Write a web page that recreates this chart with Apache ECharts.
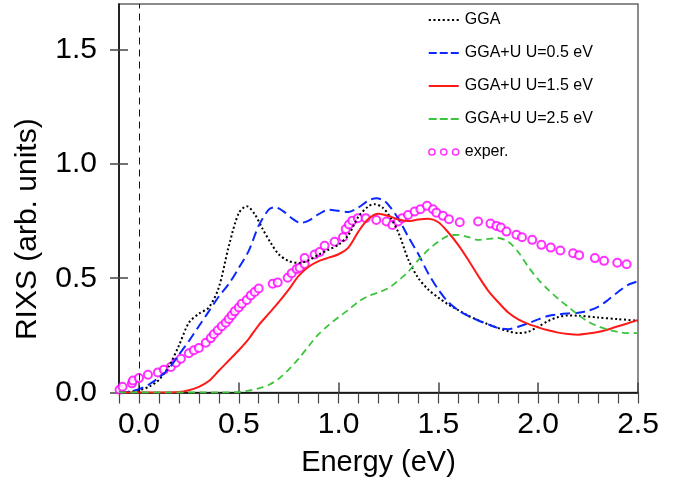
<!DOCTYPE html>
<html><head><meta charset="utf-8">
<script src="https://cdn.jsdelivr.net/npm/echarts@6/dist/echarts.min.js"></script>
<style>html,body{margin:0;padding:0;background:#fff}#c{width:688px;height:487px}</style>
</head><body><div id="c"></div>
<script>
const seriesNames = ['GGA', 'GGA+U U=0.5 eV', 'GGA+U U=1.5 eV', 'GGA+U U=2.5 eV', 'exper.'];
const xTitle = 'Energy (eV)';
const yTitle = 'RIXS (arb. units)';
const xMajorTicks = [0, 0.5, 1.0, 1.5, 2.0, 2.5];
const xMinorTicks = [-0.1, 0, 0.1, 0.2, 0.3, 0.4, 0.5, 0.6, 0.7, 0.8, 0.9, 1.0, 1.1, 1.2, 1.3, 1.4, 1.5, 1.6, 1.7, 1.8, 1.9, 2.0, 2.1, 2.2, 2.3, 2.4, 2.5];
const yMajorTicks = [0, 0.5, 1.0, 1.5];
const fermiLine = 0;

const ggaData = [[-0.1,0],[-0.05,0.003],[0,0.01],[0.05,0.025],[0.1,0.055],[0.15,0.115],[0.2,0.205],[0.25,0.305],[0.3,0.345],[0.35,0.372],[0.4,0.46],[0.45,0.64],[0.5,0.785],[0.54,0.815],[0.58,0.78],[0.62,0.715],[0.66,0.655],[0.7,0.605],[0.75,0.575],[0.8,0.567],[0.85,0.578],[0.9,0.603],[0.95,0.625],[1.0,0.647],[1.05,0.69],[1.1,0.77],[1.15,0.815],[1.18,0.824],[1.22,0.81],[1.26,0.765],[1.3,0.7],[1.35,0.58],[1.4,0.5],[1.45,0.45],[1.5,0.415],[1.55,0.385],[1.6,0.36],[1.65,0.336],[1.7,0.316],[1.75,0.298],[1.8,0.282],[1.85,0.268],[1.9,0.26],[1.95,0.266],[2.0,0.288],[2.05,0.313],[2.1,0.33],[2.15,0.337],[2.2,0.336],[2.3,0.328],[2.4,0.321],[2.5,0.314]];

const u05Data = [[-0.1,0],[-0.05,0.003],[0,0.015],[0.05,0.035],[0.1,0.065],[0.15,0.105],[0.2,0.165],[0.25,0.225],[0.3,0.29],[0.35,0.355],[0.4,0.42],[0.45,0.475],[0.5,0.545],[0.55,0.62],[0.6,0.73],[0.65,0.8],[0.68,0.811],[0.72,0.795],[0.77,0.76],[0.81,0.742],[0.85,0.752],[0.9,0.78],[0.95,0.8],[1.0,0.795],[1.05,0.79],[1.1,0.81],[1.15,0.84],[1.19,0.85],[1.23,0.838],[1.26,0.81],[1.3,0.76],[1.35,0.68],[1.4,0.605],[1.45,0.52],[1.5,0.45],[1.55,0.395],[1.6,0.36],[1.65,0.335],[1.7,0.315],[1.75,0.298],[1.8,0.282],[1.85,0.277],[1.9,0.288],[1.95,0.303],[2.0,0.32],[2.05,0.335],[2.1,0.342],[2.15,0.346],[2.2,0.349],[2.25,0.358],[2.3,0.375],[2.35,0.405],[2.4,0.44],[2.45,0.471],[2.5,0.487]];

const u15Data = [[-0.1,0],[0.1,0],[0.2,0.002],[0.25,0.01],[0.3,0.025],[0.35,0.05],[0.4,0.095],[0.45,0.14],[0.5,0.185],[0.55,0.235],[0.6,0.295],[0.65,0.345],[0.7,0.395],[0.75,0.45],[0.8,0.51],[0.85,0.55],[0.9,0.575],[0.95,0.59],[1.0,0.605],[1.05,0.635],[1.1,0.705],[1.15,0.76],[1.2,0.782],[1.25,0.772],[1.3,0.757],[1.35,0.75],[1.4,0.757],[1.45,0.76],[1.5,0.745],[1.55,0.7],[1.6,0.645],[1.65,0.58],[1.7,0.51],[1.75,0.445],[1.8,0.395],[1.85,0.35],[1.9,0.32],[1.95,0.3],[2.0,0.285],[2.05,0.272],[2.1,0.262],[2.15,0.256],[2.2,0.253],[2.25,0.258],[2.3,0.265],[2.35,0.276],[2.4,0.29],[2.45,0.303],[2.5,0.318]];

const u25Data = [[-0.1,0],[0.4,0],[0.5,0.002],[0.55,0.008],[0.6,0.018],[0.65,0.033],[0.7,0.06],[0.75,0.1],[0.8,0.148],[0.85,0.203],[0.9,0.255],[0.95,0.295],[1.0,0.33],[1.05,0.362],[1.1,0.398],[1.15,0.422],[1.2,0.438],[1.25,0.457],[1.3,0.49],[1.35,0.53],[1.4,0.58],[1.45,0.625],[1.5,0.66],[1.55,0.686],[1.6,0.69],[1.65,0.68],[1.7,0.668],[1.75,0.672],[1.8,0.676],[1.85,0.66],[1.9,0.615],[1.95,0.55],[2.0,0.495],[2.05,0.45],[2.1,0.41],[2.15,0.375],[2.2,0.34],[2.25,0.31],[2.3,0.29],[2.35,0.275],[2.4,0.265],[2.45,0.26],[2.5,0.26]];

const experData = [[-0.097,0.012],[-0.082,0.025],[-0.035,0.04],[-0.03,0.052],[0.0,0.063],[0.045,0.078],[0.095,0.088],[0.125,0.1],[0.16,0.112],[0.185,0.13],[0.21,0.148],[0.25,0.172],[0.275,0.185],[0.3,0.195],[0.335,0.218],[0.36,0.238],[0.375,0.255],[0.395,0.272],[0.415,0.29],[0.435,0.305],[0.45,0.322],[0.465,0.338],[0.48,0.355],[0.5,0.372],[0.515,0.388],[0.54,0.405],[0.56,0.425],[0.58,0.44],[0.6,0.455],[0.67,0.476],[0.695,0.481],[0.745,0.502],[0.765,0.522],[0.79,0.54],[0.805,0.546],[0.83,0.562],[0.83,0.588],[0.88,0.604],[0.905,0.615],[0.93,0.642],[0.98,0.66],[1.022,0.679],[1.036,0.715],[1.052,0.735],[1.069,0.752],[1.097,0.763],[1.136,0.763],[1.189,0.755],[1.24,0.748],[1.27,0.733],[1.298,0.748],[1.319,0.763],[1.348,0.777],[1.381,0.792],[1.41,0.802],[1.443,0.817],[1.473,0.802],[1.49,0.787],[1.523,0.773],[1.553,0.758],[1.607,0.745],[1.699,0.748],[1.761,0.739],[1.791,0.729],[1.813,0.722],[1.841,0.704],[1.891,0.69],[1.919,0.679],[1.97,0.668],[2.016,0.646],[2.063,0.634],[2.111,0.621],[2.175,0.609],[2.205,0.601],[2.284,0.588],[2.33,0.576],[2.396,0.568],[2.443,0.561]];

const FONT = "'Liberation Sans', Arial, Helvetica, sans-serif";
const X_MIN = -0.1, X_MAX = 2.5, Y_MIN = 0, Y_MAX = 1.7;

// legend icon shapes (dotted / dashed / solid line samples and three open circles)
const ICON_DOTTED = 'path://M0,0h2v2h-2zM4.4,0h2v2h-2zM8.8,0h2v2h-2zM13.2,0h2v2h-2zM17.6,0h2v2h-2zM22,0h2v2h-2zM26.4,0h2v2h-2z';
const ICON_DASHED = 'path://M0,0h8v2h-8zM11,0h8v2h-8zM22,0h8v2h-8z';
const ICON_SOLID = 'path://M0,0h30v2h-30z';
const ICON_CIRCLES = 'path://M0.5,3.5a3,3 0 1,0 6,0a3,3 0 1,0 -6,0M12,3.5a3,3 0 1,0 6,0a3,3 0 1,0 -6,0M23.5,3.5a3,3 0 1,0 6,0a3,3 0 1,0 -6,0';

function xAxisBase(extra) {
  return Object.assign({
    type: 'value', min: X_MIN, max: X_MAX, position: 'bottom',
    splitLine: { show: false }, axisLine: { show: false, onZero: false },
    axisLabel: { show: false }, axisTick: { show: false }
  }, extra);
}
function yAxisBase(extra) {
  return Object.assign({
    type: 'value', min: Y_MIN, max: Y_MAX, position: 'left',
    splitLine: { show: false }, axisLine: { show: false, onZero: false },
    axisLabel: { show: false }, axisTick: { show: false }
  }, extra);
}

const chart = echarts.init(document.getElementById('c'), null, { renderer: 'canvas' });
const option = {
  animation: false,
  backgroundColor: '#fff',
  textStyle: { fontFamily: FONT },
  grid: { left: 119, right: 50, top: 4, bottom: 94.5, show: true, borderColor: '#666', borderWidth: 1.5, backgroundColor: 'transparent' },
  legend: {
    orient: 'vertical', left: 423, top: 7, itemWidth: 30, itemHeight: 14, itemGap: 17,
    textStyle: { fontSize: 16, color: '#000', fontFamily: FONT, padding: [0, 0, 0, 1] },
    data: [
      { name: seriesNames[0], icon: ICON_DOTTED, itemStyle: { color: '#000', borderWidth: 0 } },
      { name: seriesNames[1], icon: ICON_DASHED, itemStyle: { color: '#0a28ff', borderWidth: 0 } },
      { name: seriesNames[2], icon: ICON_SOLID, itemStyle: { color: '#ff1a1a', borderWidth: 0 } },
      { name: seriesNames[3], icon: ICON_DASHED, itemStyle: { color: '#3cc43c', borderWidth: 0 } },
      { name: seriesNames[4], icon: ICON_CIRCLES,
        itemStyle: { color: 'rgba(0,0,0,0)', borderColor: '#ff00ff', borderWidth: 1.5 } }
    ]
  },
  xAxis: [
    xAxisBase({
      name: xTitle, nameLocation: 'middle', nameGap: 56,
      nameTextStyle: { fontSize: 29, color: '#000', fontFamily: FONT },
      axisLine: { show: true, onZero: false, lineStyle: { color: '#000', width: 1.5 } },
      axisTick: { show: true, inside: false, length: 11, customValues: xMinorTicks, lineStyle: { color: '#444', width: 1.2 } },
      axisLabel: { show: true, customValues: xMajorTicks, margin: 17, fontSize: 30, color: '#000', fontFamily: FONT,
        formatter: v => v.toFixed(1) }
    }),
    xAxisBase({
      axisTick: { show: true, inside: true, length: 10, customValues: xMajorTicks, lineStyle: { color: '#444', width: 1.5 } }
    })
  ],
  yAxis: [
    yAxisBase({
      name: yTitle, nameLocation: 'middle', nameGap: 76,
      nameTextStyle: { fontSize: 30, color: '#000', fontFamily: FONT, padding: [0, 62, 0, 0] },
      axisLine: { show: true, onZero: false, lineStyle: { color: '#000', width: 1.5 } },
      axisTick: { show: true, inside: false, length: 9, customValues: yMajorTicks, lineStyle: { color: '#444', width: 1.5 } },
      axisLabel: { show: true, customValues: yMajorTicks, margin: 22, fontSize: 30, color: '#000', fontFamily: FONT,
        formatter: v => v.toFixed(1) }
    }),
    yAxisBase({
      axisTick: { show: true, inside: true, length: 9, customValues: yMajorTicks, lineStyle: { color: '#444', width: 1.5 } }
    })
  ],
  series: [
    { name: seriesNames[0], type: 'line', data: ggaData, smooth: 0.3, showSymbol: false, symbol: 'none',
      lineStyle: { color: '#000', width: 2, type: [2, 2.5] }, itemStyle: { color: '#000' },
      markLine: { silent: true, symbol: ['none', 'none'], label: { show: false }, emphasis: { disabled: true },
        lineStyle: { color: '#111', width: 1, type: [7, 5] },
        data: [[{ coord: [fermiLine, Y_MIN] }, { coord: [fermiLine, Y_MAX] }]] } },
    { name: seriesNames[1], type: 'line', data: u05Data, smooth: 0.3, showSymbol: false, symbol: 'none',
      lineStyle: { color: '#0a28ff', width: 2, type: [10, 5] }, itemStyle: { color: '#0a28ff' } },
    { name: seriesNames[2], type: 'line', data: u15Data, smooth: 0.3, showSymbol: false, symbol: 'none',
      lineStyle: { color: '#ff1a1a', width: 2, type: 'solid' }, itemStyle: { color: '#ff1a1a' } },
    { name: seriesNames[3], type: 'line', data: u25Data, smooth: 0.3, showSymbol: false, symbol: 'none',
      lineStyle: { color: '#3cc43c', width: 1.8, type: [7, 4.5] }, itemStyle: { color: '#3cc43c' } },
    { name: seriesNames[4], type: 'scatter', data: experData, symbol: 'emptyCircle', symbolSize: 8,
      itemStyle: { color: '#ff00ff', borderColor: '#ff00ff', borderWidth: 1.3 } }
  ]
};
chart.setOption(option);
</script></body></html>
